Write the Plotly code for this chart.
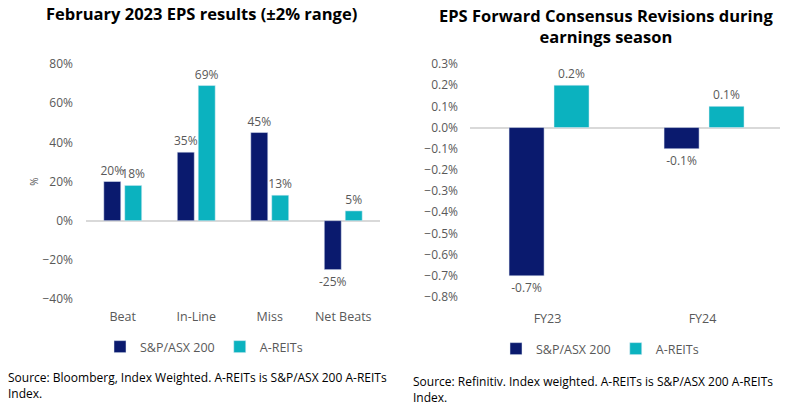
import plotly.graph_objects as go

# Left chart data
left_categories = ["Beat", "In-Line", "Miss", "Net Beats"]
left_asx200 = [0.20, 0.35, 0.45, -0.25]
left_areits = [0.18, 0.69, 0.13, 0.05]
left_ticks = [-0.4, -0.2, 0.0, 0.2, 0.4, 0.6, 0.8]

# Right chart data
right_categories = ["FY23", "FY24"]
right_asx200 = [-0.007, -0.001]
right_areits = [0.002, 0.001]
right_ticks = [-0.008, -0.007, -0.006, -0.005, -0.004, -0.003, -0.002, -0.001, 0.0, 0.001, 0.002, 0.003]

series_names = ["S&P/ASX 200", "A-REITs"]
NAVY = "#0A1A6E"
TEAL = "#0BB2BF"
FONT = "Open Sans"
GREY = "#595959"

W, H = 792, 407
def px(x):
    return x / W
def py(y):
    return (H - y) / H

lbl = dict(size=12, color=GREY, family=FONT)

fig = go.Figure()

# Left chart
fig.add_trace(go.Bar(x=left_categories, y=left_asx200, name=series_names[0], marker_color=NAVY,
                     width=0.231, offset=-0.258, texttemplate="%{y:.0%}", textposition="outside",
                     textfont=lbl, constraintext="none", cliponaxis=False,
                     xaxis="x", yaxis="y", legend="legend"))
fig.add_trace(go.Bar(x=left_categories, y=left_areits, name=series_names[1], marker_color=TEAL,
                     width=0.231, offset=0.027, texttemplate="%{y:.0%}", textposition="outside",
                     textfont=lbl, constraintext="none", cliponaxis=False,
                     xaxis="x", yaxis="y", legend="legend"))

# Right chart
fig.add_trace(go.Bar(x=right_categories, y=right_asx200, name=series_names[0], marker_color=NAVY,
                     width=0.226, offset=-0.248, texttemplate="%{y:.1%}", textposition="outside",
                     textfont=lbl, constraintext="none", cliponaxis=False,
                     xaxis="x2", yaxis="y2", legend="legend2"))
fig.add_trace(go.Bar(x=right_categories, y=right_areits, name=series_names[1], marker_color=TEAL,
                     width=0.226, offset=0.042, texttemplate="%{y:.1%}", textposition="outside",
                     textfont=lbl, constraintext="none", cliponaxis=False,
                     xaxis="x2", yaxis="y2", legend="legend2"))

tickfont = dict(size=12, color=GREY, family=FONT)
catfont = dict(size=12.5, color=GREY, family=FONT)

fig.update_layout(
    width=W, height=H,
    margin=dict(l=0, r=0, t=0, b=0, autoexpand=False),
    paper_bgcolor="white", plot_bgcolor="white",
    font=dict(family=FONT, color=GREY),
    barmode="group",
    xaxis=dict(domain=[px(86), px(380)], anchor="y", showgrid=False, showline=False, automargin=False,
               ticks="", tickfont=catfont, range=[-0.5, 3.5], ticklabelstandoff=8),
    yaxis=dict(domain=[py(299), py(64)], anchor="x", range=[-0.4, 0.8], tickvals=left_ticks,
               tickformat=".0%", showgrid=False, zeroline=True, zerolinecolor="#D9D9D9",
               zerolinewidth=1.5, showline=False, tickfont=tickfont, ticklabelstandoff=12,
               automargin=False,
               title=dict(text="%", font=dict(size=10, color=GREY, family=FONT), standoff=1)),
    xaxis2=dict(domain=[px(470), px(780)], anchor="y2", showgrid=False, showline=False, automargin=False,
                ticks="", tickfont=catfont, range=[-0.5, 1.5], ticklabelstandoff=12),
    yaxis2=dict(domain=[py(297), py(64)], anchor="x2", range=[-0.008, 0.003], tickvals=right_ticks,
                tickformat=".1%", showgrid=False, zeroline=True, zerolinecolor="#D9D9D9",
                zerolinewidth=1.5, showline=False, tickfont=tickfont, ticklabelstandoff=11,
                automargin=False),
    legend=dict(orientation="h", x=px(204), xanchor="center", y=py(347), yanchor="middle",
                font=catfont, itemwidth=30, traceorder="normal", bgcolor="rgba(0,0,0,0)"),
    legend2=dict(orientation="h", x=px(600), xanchor="center", y=py(349), yanchor="middle",
                 font=catfont, itemwidth=30, traceorder="normal", bgcolor="rgba(0,0,0,0)"),
    showlegend=True,
)

fig.add_annotation(text="<b>February 2023 EPS results (±2% range)</b>", x=px(202), y=py(14),
                   xref="paper", yref="paper", xanchor="center", yanchor="middle", showarrow=False,
                   font=dict(size=16.5, color="black", family=FONT))
fig.add_annotation(text="<b>EPS Forward Consensus Revisions during<br>earnings season</b>", x=px(606), y=py(26),
                   xref="paper", yref="paper", xanchor="center", yanchor="middle", showarrow=False,
                   font=dict(size=16.5, color="black", family=FONT))
fig.add_annotation(text="Source: Bloomberg, Index Weighted. A-REITs is S&P/ASX 200 A-REITs<br>Index.",
                   x=px(6), y=py(385), xref="paper", yref="paper", xanchor="left", yanchor="middle",
                   align="left", showarrow=False, font=dict(size=12, color="black", family=FONT))
fig.add_annotation(text="Source: Refinitiv. Index weighted. A-REITs is S&P/ASX 200 A-REITs<br>Index.",
                   x=px(411), y=py(389), xref="paper", yref="paper", xanchor="left", yanchor="middle",
                   align="left", showarrow=False, font=dict(size=12, color="black", family=FONT))

fig.write_html("out.html", config={"displayModeBar": False},
               post_script="document.body.style.margin='0';")
